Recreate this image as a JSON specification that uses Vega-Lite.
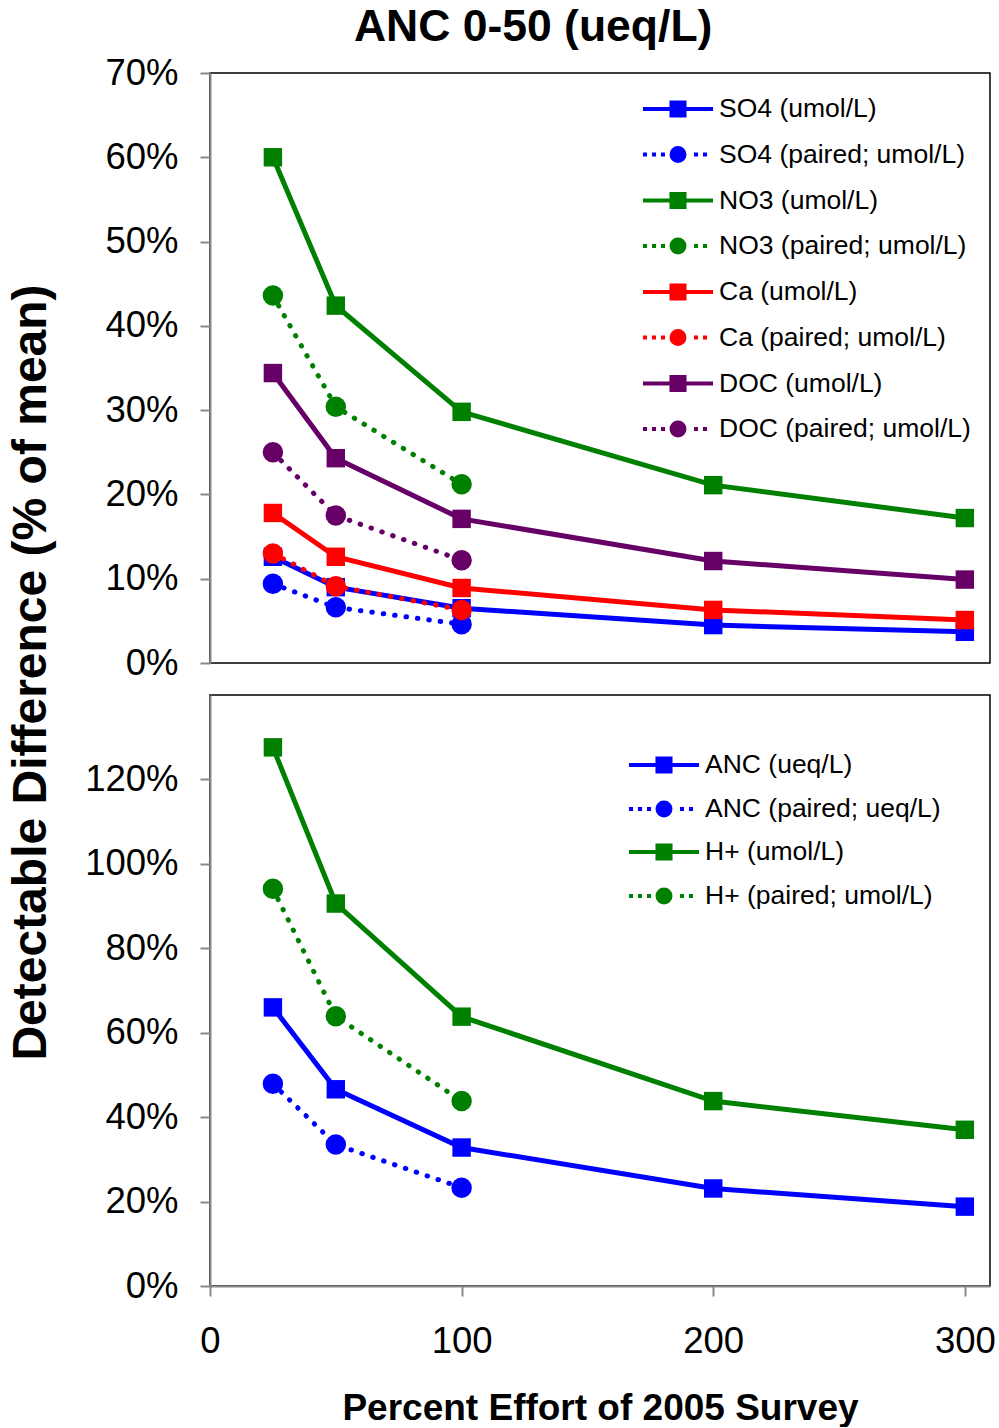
{
  "$schema": "https://vega.github.io/schema/vega-lite/v6.json",
  "background": "white",
  "padding": {"left": 6, "top": 4, "right": 5, "bottom": 0},
  "title": {"text": "ANC 0-50 (ueq/L)", "font": "Liberation Sans", "fontSize": 44.5, "fontWeight": "bold", "color": "black", "anchor": "middle", "offset": 4, "dx": 32},
  "config": {
    "font": "Liberation Sans",
    "view": {"stroke": "black", "strokeWidth": 1.5},
    "axis": {"domainColor": "#888888", "domainWidth": 2, "tickColor": "#888888", "tickWidth": 2, "tickSize": 10, "grid": false, "labelFont": "Liberation Sans", "labelFontSize": 36.5, "labelColor": "black", "titleColor": "black", "titleFont": "Liberation Sans", "labelFlush": false, "labelOverlap": false},
    "legend": {"title": null, "orient": "none", "padding": 0, "labelFont": "Liberation Sans", "labelFontSize": 26.5, "labelColor": "black", "labelLimit": 400, "symbolSize": 576, "symbolStrokeWidth": 4, "symbolOpacity": 1, "labelOffset": 27}
  },
  "datasets": {
    "top": [
      {"series": "SO4 (umol/L)", "kind": "main", "effort": 25, "dd": 12.6},
      {"series": "SO4 (umol/L)", "kind": "main", "effort": 50, "dd": 9.0},
      {"series": "SO4 (umol/L)", "kind": "main", "effort": 100, "dd": 6.5},
      {"series": "SO4 (umol/L)", "kind": "main", "effort": 200, "dd": 4.5},
      {"series": "SO4 (umol/L)", "kind": "main", "effort": 300, "dd": 3.7},
      {"series": "SO4 (paired; umol/L)", "kind": "paired", "effort": 25, "dd": 9.4},
      {"series": "SO4 (paired; umol/L)", "kind": "paired", "effort": 50, "dd": 6.6},
      {"series": "SO4 (paired; umol/L)", "kind": "paired", "effort": 100, "dd": 4.6},
      {"series": "NO3 (umol/L)", "kind": "main", "effort": 25, "dd": 60.0},
      {"series": "NO3 (umol/L)", "kind": "main", "effort": 50, "dd": 42.4},
      {"series": "NO3 (umol/L)", "kind": "main", "effort": 100, "dd": 29.8},
      {"series": "NO3 (umol/L)", "kind": "main", "effort": 200, "dd": 21.1},
      {"series": "NO3 (umol/L)", "kind": "main", "effort": 300, "dd": 17.2},
      {"series": "NO3 (paired; umol/L)", "kind": "paired", "effort": 25, "dd": 43.6},
      {"series": "NO3 (paired; umol/L)", "kind": "paired", "effort": 50, "dd": 30.4},
      {"series": "NO3 (paired; umol/L)", "kind": "paired", "effort": 100, "dd": 21.2},
      {"series": "Ca (umol/L)", "kind": "main", "effort": 25, "dd": 17.8},
      {"series": "Ca (umol/L)", "kind": "main", "effort": 50, "dd": 12.6},
      {"series": "Ca (umol/L)", "kind": "main", "effort": 100, "dd": 8.9},
      {"series": "Ca (umol/L)", "kind": "main", "effort": 200, "dd": 6.3},
      {"series": "Ca (umol/L)", "kind": "main", "effort": 300, "dd": 5.1},
      {"series": "Ca (paired; umol/L)", "kind": "paired", "effort": 25, "dd": 13.0},
      {"series": "Ca (paired; umol/L)", "kind": "paired", "effort": 50, "dd": 9.1},
      {"series": "Ca (paired; umol/L)", "kind": "paired", "effort": 100, "dd": 6.3},
      {"series": "DOC (umol/L)", "kind": "main", "effort": 25, "dd": 34.4},
      {"series": "DOC (umol/L)", "kind": "main", "effort": 50, "dd": 24.3},
      {"series": "DOC (umol/L)", "kind": "main", "effort": 100, "dd": 17.1},
      {"series": "DOC (umol/L)", "kind": "main", "effort": 200, "dd": 12.1},
      {"series": "DOC (umol/L)", "kind": "main", "effort": 300, "dd": 9.9},
      {"series": "DOC (paired; umol/L)", "kind": "paired", "effort": 25, "dd": 25.0},
      {"series": "DOC (paired; umol/L)", "kind": "paired", "effort": 50, "dd": 17.5},
      {"series": "DOC (paired; umol/L)", "kind": "paired", "effort": 100, "dd": 12.2}
    ],
    "bottom": [
      {"series": "ANC (ueq/L)", "kind": "main", "effort": 25, "dd": 66.0},
      {"series": "ANC (ueq/L)", "kind": "main", "effort": 50, "dd": 46.6},
      {"series": "ANC (ueq/L)", "kind": "main", "effort": 100, "dd": 32.8},
      {"series": "ANC (ueq/L)", "kind": "main", "effort": 200, "dd": 23.1},
      {"series": "ANC (ueq/L)", "kind": "main", "effort": 300, "dd": 18.8},
      {"series": "ANC (paired; ueq/L)", "kind": "paired", "effort": 25, "dd": 47.9},
      {"series": "ANC (paired; ueq/L)", "kind": "paired", "effort": 50, "dd": 33.5},
      {"series": "ANC (paired; ueq/L)", "kind": "paired", "effort": 100, "dd": 23.3},
      {"series": "H+ (umol/L)", "kind": "main", "effort": 25, "dd": 127.6},
      {"series": "H+ (umol/L)", "kind": "main", "effort": 50, "dd": 90.6},
      {"series": "H+ (umol/L)", "kind": "main", "effort": 100, "dd": 63.8},
      {"series": "H+ (umol/L)", "kind": "main", "effort": 200, "dd": 43.8},
      {"series": "H+ (umol/L)", "kind": "main", "effort": 300, "dd": 37.0},
      {"series": "H+ (paired; umol/L)", "kind": "paired", "effort": 25, "dd": 94.1},
      {"series": "H+ (paired; umol/L)", "kind": "paired", "effort": 50, "dd": 63.9},
      {"series": "H+ (paired; umol/L)", "kind": "paired", "effort": 100, "dd": 43.8}
    ]
  },
  "spacing": 32,
  "bounds": "flush",
  "vconcat": [
    {
      "width": 780,
      "height": 590,
      "data": {"name": "top"},
      "resolve": {"scale": {"color": "independent"}},
      "encoding": {
        "x": {"field": "effort", "type": "quantitative", "scale": {"domain": [0, 310], "nice": false, "zero": false}, "axis": null},
        "y": {"field": "dd", "type": "quantitative", "scale": {"domain": [0, 70], "nice": false},
          "axis": {"values": [0, 10, 20, 30, 40, 50, 60, 70], "labelExpr": "datum.value + '%'", "labelPadding": 22,
            "title": "Detectable Difference (% of mean)", "titleFontSize": 48, "titleFontWeight": "bold",
            "titleX": -165, "titleY": 599, "titleBaseline": "alphabetic", "titleAngle": 270, "titleAlign": "center"}}
      },
      "layer": [
        {
          "transform": [{"filter": "datum.kind == 'main'"}],
          "encoding": {
            "color": {"field": "series", "type": "nominal",
              "scale": {"domain": ["SO4 (umol/L)", "NO3 (umol/L)", "Ca (umol/L)", "DOC (umol/L)"], "range": ["#0000FF", "#008000", "#FF0000", "#660066"]},
              "legend": {"legendX": 454, "legendY": 22, "rowPadding": 61.5,
                "symbolType": "M-2.92,0H2.92M-0.71,-0.54H0.71M-0.71,-0.27H0.71M-0.71,0H0.71M-0.71,0.27H0.71M-0.71,0.54H0.71"}}
          },
          "layer": [
            {"mark": {"type": "line", "strokeWidth": 5, "strokeCap": "round"}},
            {"mark": {"type": "point", "shape": "square", "filled": true, "size": 340, "opacity": 1}}
          ]
        },
        {
          "transform": [{"filter": "datum.kind == 'paired'"}],
          "encoding": {
            "color": {"field": "series", "type": "nominal",
              "scale": {"domain": ["SO4 (paired; umol/L)", "NO3 (paired; umol/L)", "Ca (paired; umol/L)", "DOC (paired; umol/L)"], "range": ["#0000FF", "#008000", "#FF0000", "#660066"]},
              "legend": {"legendX": 454, "legendY": 67.5, "rowPadding": 61.5,
                "symbolType": "M-2.92,0H-2.58M-2.17,0H-1.83M-1.42,0H-1.08M1.33,0H1.67M2.08,0H2.42M0.54,0A0.54,0.54,0,1,1,-0.54,0A0.54,0.54,0,1,1,0.54,0M0.21,0A0.21,0.21,0,1,1,-0.21,0A0.21,0.21,0,1,1,0.21,0M-0.1,0H0.1"}}
          },
          "layer": [
            {"mark": {"type": "line", "strokeWidth": 5, "strokeCap": "round"},
              "encoding": {"strokeDash": {"field": "kind", "type": "nominal", "scale": {"domain": ["paired"], "range": [[0.5, 11]]}, "legend": null}}},
            {"mark": {"type": "point", "shape": "circle", "filled": true, "size": 420, "opacity": 1}}
          ]
        }
      ]
    },
    {
      "width": 780,
      "height": 591,
      "data": {"name": "bottom"},
      "resolve": {"scale": {"color": "independent"}},
      "encoding": {
        "x": {"field": "effort", "type": "quantitative", "scale": {"domain": [0, 310], "nice": false, "zero": false},
          "axis": {"values": [0, 100, 200, 300], "labelPadding": 27, "title": "Percent Effort of 2005 Survey", "titleFontSize": 37, "titleFontWeight": "bold", "titleBaseline": "alphabetic", "titleY": 133}},
        "y": {"field": "dd", "type": "quantitative", "scale": {"domain": [0, 140], "nice": false},
          "axis": {"values": [0, 20, 40, 60, 80, 100, 120], "labelExpr": "datum.value + '%'", "labelPadding": 22, "title": null}}
      },
      "layer": [
        {
          "transform": [{"filter": "datum.kind == 'main'"}],
          "encoding": {
            "color": {"field": "series", "type": "nominal",
              "scale": {"domain": ["ANC (ueq/L)", "H+ (umol/L)"], "range": ["#0000FF", "#008000"]},
              "legend": {"legendX": 440, "legendY": 56, "rowPadding": 57,
                "symbolType": "M-2.92,0H2.92M-0.71,-0.54H0.71M-0.71,-0.27H0.71M-0.71,0H0.71M-0.71,0.27H0.71M-0.71,0.54H0.71"}}
          },
          "layer": [
            {"mark": {"type": "line", "strokeWidth": 5, "strokeCap": "round"}},
            {"mark": {"type": "point", "shape": "square", "filled": true, "size": 340, "opacity": 1}}
          ]
        },
        {
          "transform": [{"filter": "datum.kind == 'paired'"}],
          "encoding": {
            "color": {"field": "series", "type": "nominal",
              "scale": {"domain": ["ANC (paired; ueq/L)", "H+ (paired; umol/L)"], "range": ["#0000FF", "#008000"]},
              "legend": {"legendX": 440, "legendY": 100, "rowPadding": 57,
                "symbolType": "M-2.92,0H-2.58M-2.17,0H-1.83M-1.42,0H-1.08M1.33,0H1.67M2.08,0H2.42M0.54,0A0.54,0.54,0,1,1,-0.54,0A0.54,0.54,0,1,1,0.54,0M0.21,0A0.21,0.21,0,1,1,-0.21,0A0.21,0.21,0,1,1,0.21,0M-0.1,0H0.1"}}
          },
          "layer": [
            {"mark": {"type": "line", "strokeWidth": 5, "strokeCap": "round"},
              "encoding": {"strokeDash": {"field": "kind", "type": "nominal", "scale": {"domain": ["paired"], "range": [[0.5, 11]]}, "legend": null}}},
            {"mark": {"type": "point", "shape": "circle", "filled": true, "size": 420, "opacity": 1}}
          ]
        }
      ]
    }
  ]
}
